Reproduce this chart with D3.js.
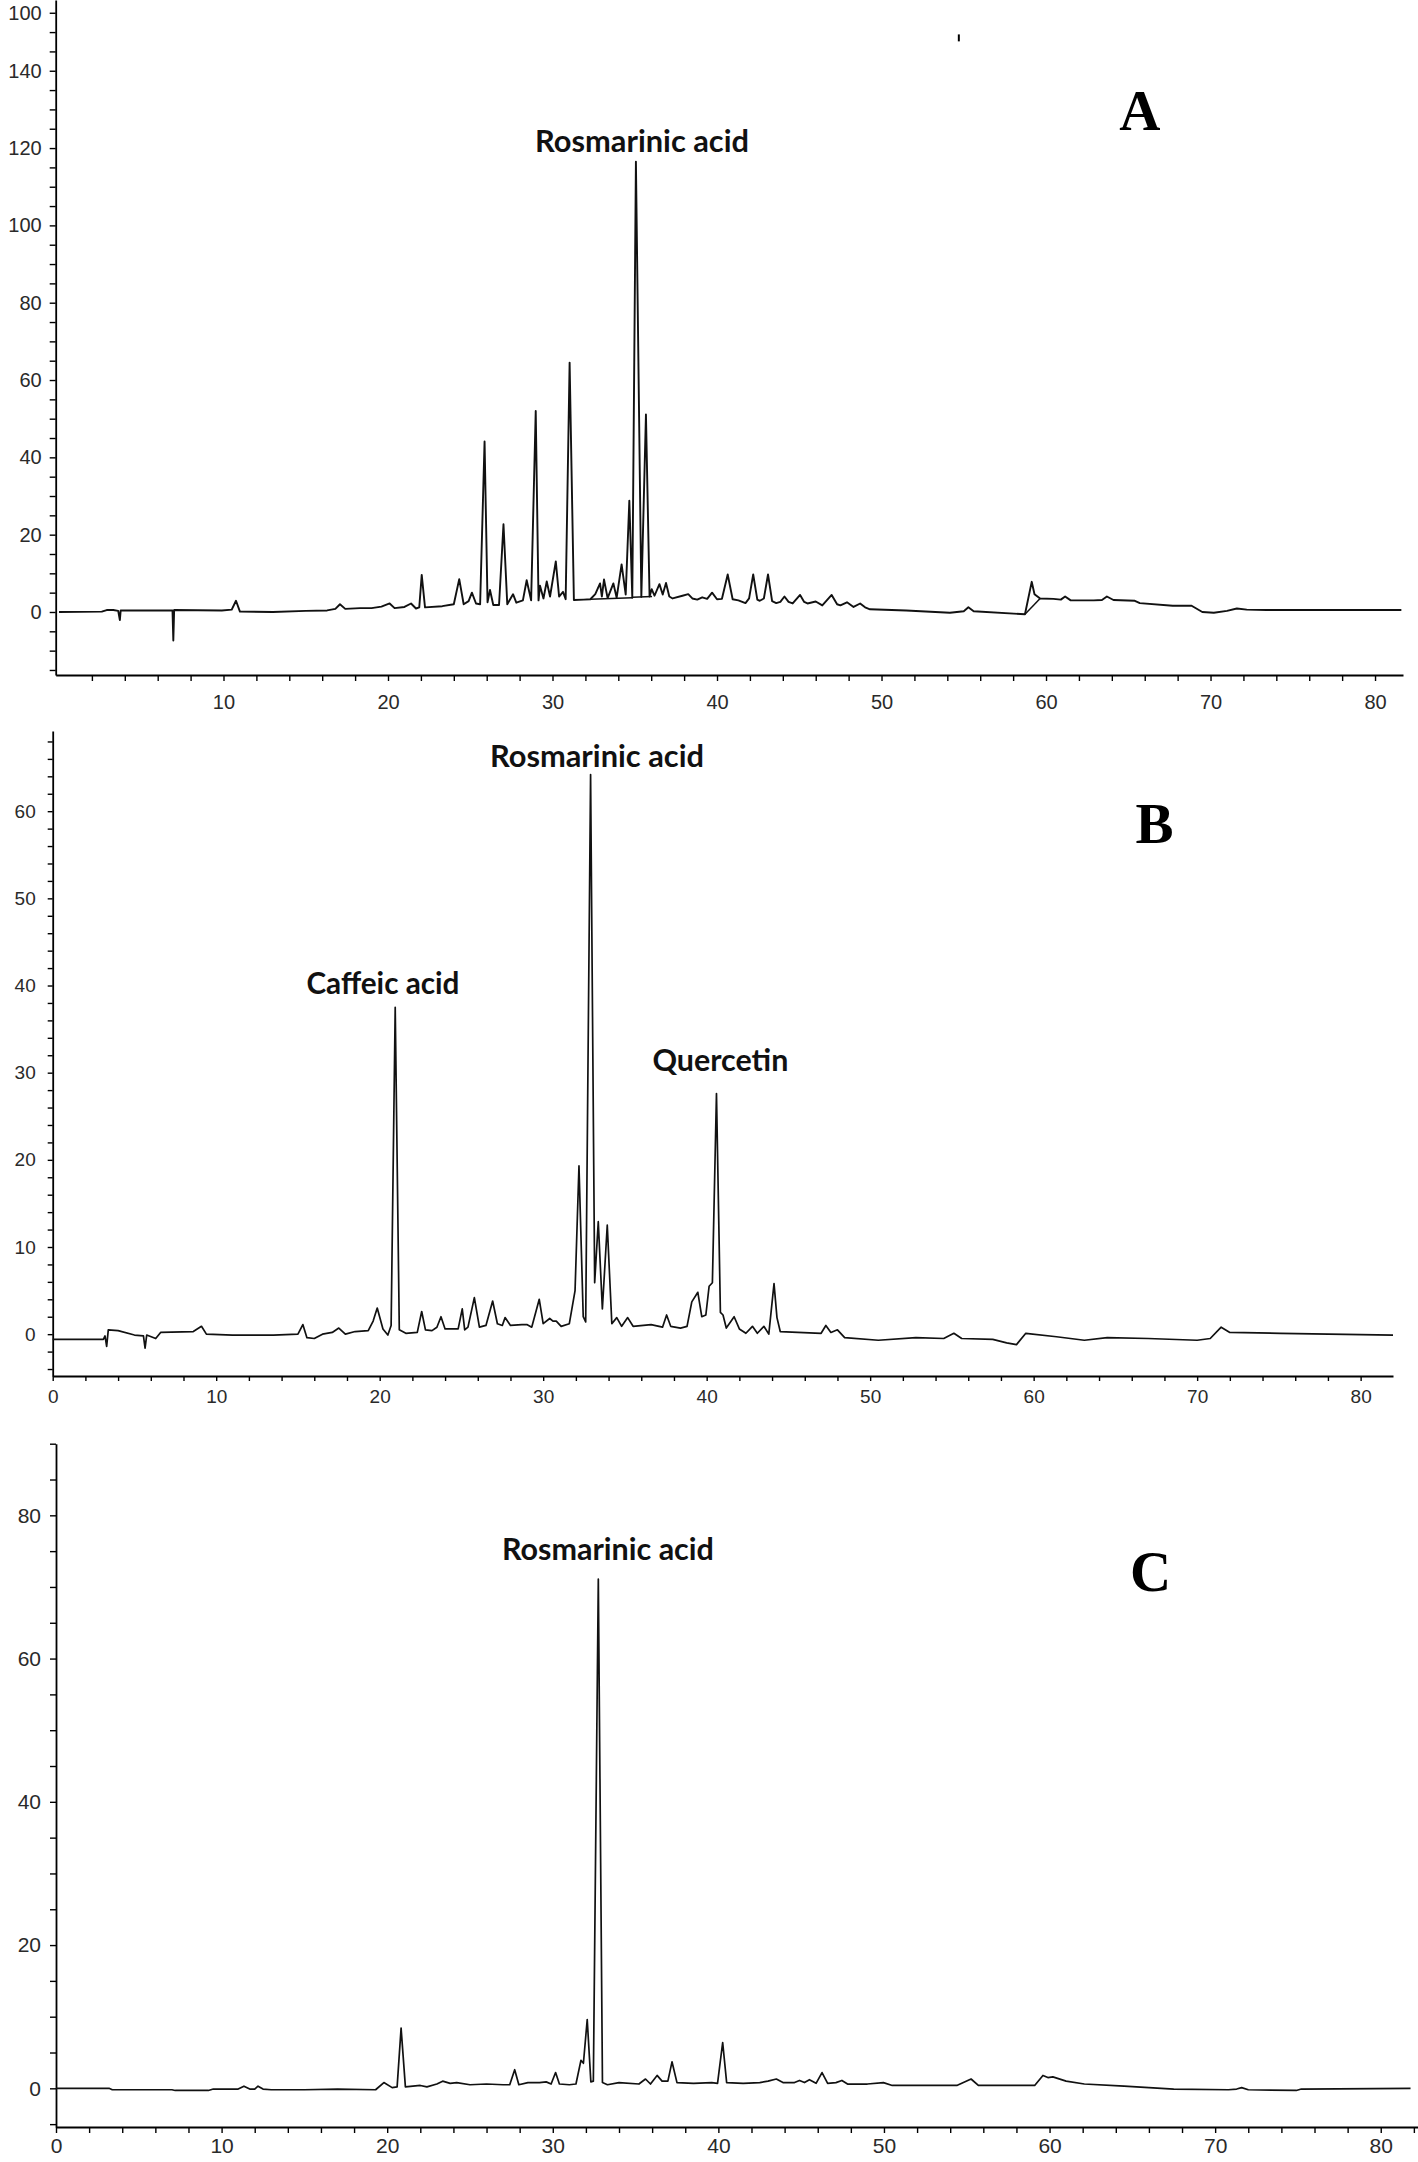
<!DOCTYPE html>
<html><head><meta charset="utf-8">
<script src="https://cdn.jsdelivr.net/npm/d3@7"></script>
<style>body{margin:0;background:#fff}svg{display:block}</style>
</head><body>
<svg id="chart" width="1418" height="2162"></svg>
<script>
// ---------- DATA (retention time in min, absorbance in mAU) ----------
const traceA = [[0,0],[2.6,0.1],[2.9,0.5],[3.3,0.5],[3.6,0.3],[3.7,-2.1],[3.75,0.4],[6.9,0.4],[6.95,-7.4],[7.0,0.5],[9.9,0.4],[10.5,0.6],[10.76,2.9],[11.0,0.1],[13.0,0.0],[15.0,0.3],[16.3,0.4],[16.8,0.8],[17.08,2.0],[17.4,0.8],[18.3,1.0],[19.0,1.0],[19.6,1.4],[20.1,2.2],[20.4,1.0],[21.0,1.3],[21.4,2.2],[21.7,0.9],[21.9,1.2],[22.05,9.6],[22.25,1.2],[23.3,1.5],[24.0,2.0],[24.33,8.5],[24.6,2.0],[24.9,2.8],[25.1,5.0],[25.35,2.2],[25.6,2.0],[25.87,44.1],[26.05,2.5],[26.2,5.7],[26.4,1.8],[26.75,1.8],[27.02,22.7],[27.25,2.0],[27.6,4.6],[27.8,2.4],[28.2,3.0],[28.43,8.2],[28.7,3.0],[28.98,52.0],[29.15,3.0],[29.24,6.8],[29.45,3.5],[29.65,7.9],[29.85,4.0],[30.2,13.1],[30.4,4.0],[30.64,5.2],[30.8,3.3],[31.04,64.5],[31.3,3.1],[31.9,3.2],[32.3,3.3],[32.6,4.6],[32.89,7.4],[33.0,4.0],[33.13,8.4],[33.35,3.6],[33.7,7.4],[33.9,3.7],[34.2,12.3],[34.45,4.5],[34.67,28.8],[34.85,3.7],[35.07,116.5],[35.4,3.9],[35.68,51.1],[35.9,4.0],[36.03,5.9],[36.2,4.2],[36.5,7.2],[36.7,4.5],[36.9,7.5],[37.1,4.0],[37.3,3.5],[37.9,4.2],[38.25,4.6],[38.5,3.5],[38.8,3.2],[39.1,3.8],[39.4,3.4],[39.7,5.0],[40.0,3.3],[40.3,3.4],[40.65,9.7],[40.95,3.3],[41.3,3.0],[41.73,2.3],[41.95,3.5],[42.2,9.7],[42.45,3.2],[42.6,2.9],[42.85,3.5],[43.1,9.7],[43.35,2.8],[43.6,2.3],[43.85,2.6],[44.1,4.0],[44.35,2.6],[44.6,2.2],[45.05,4.4],[45.3,2.6],[45.5,2.2],[46.0,2.7],[46.4,1.7],[46.97,4.4],[47.3,2.0],[47.5,1.7],[47.9,2.5],[48.3,1.3],[48.7,2.2],[49.0,1.2],[49.3,0.7],[51.5,0.4],[54.16,-0.2],[55.0,0.2],[55.28,1.2],[55.6,0.2],[58.72,-0.6],[59.13,7.8],[59.3,4.6],[59.64,3.5],[60.45,3.4],[60.9,3.2],[61.16,4.0],[61.5,3.0],[62.9,3.0],[63.4,3.1],[63.7,4.0],[64.1,3.1],[65.4,2.9],[65.7,2.3],[67.7,1.6],[68.85,1.6],[69.5,0.0],[70.2,-0.2],[71.0,0.3],[71.6,0.9],[72.2,0.6],[73.4,0.5],[81.6,0.5]];

const baselinesA = [
  [[32.3,3.3],[34.85,3.7]],
  [[34.85,3.8],[36.05,4.0]],
  [[58.72,-0.6],[59.64,3.5]]
];

const traceB = [[0,-0.6],[3.1,-0.6],[3.2,-0.2],[3.3,-1.4],[3.4,0.5],[4.0,0.4],[5.0,-0.1],[5.55,-0.2],[5.65,-1.6],[5.75,-0.1],[6.3,-0.5],[6.6,0.2],[8.6,0.3],[9.1,0.9],[9.4,0.0],[11.0,-0.1],[13.5,-0.1],[15.0,0.0],[15.3,1.1],[15.55,-0.4],[16.0,-0.5],[16.5,0.0],[17.1,0.2],[17.5,0.7],[17.9,0.0],[18.5,0.3],[19.3,0.4],[19.6,1.5],[19.85,3.0],[20.2,0.6],[20.5,-0.1],[20.7,1.0],[20.95,37.5],[21.2,0.5],[21.6,0.1],[22.3,0.2],[22.57,2.6],[22.8,0.5],[23.2,0.4],[23.5,0.8],[23.75,2.0],[24.0,0.6],[24.8,0.6],[25.05,2.9],[25.2,0.5],[25.4,0.8],[25.79,4.2],[26.1,0.8],[26.5,1.0],[26.91,3.8],[27.2,1.2],[27.5,1.0],[27.67,1.9],[28.0,1.0],[28.7,1.1],[29.0,1.1],[29.3,0.8],[29.76,4.0],[30.0,1.2],[30.4,1.8],[30.6,1.5],[30.8,1.5],[31.1,0.9],[31.6,1.2],[31.95,5.0],[32.19,19.3],[32.45,2.0],[32.6,1.4],[32.9,64.2],[33.15,5.9],[33.37,12.9],[33.62,2.9],[33.92,12.5],[34.2,1.2],[34.5,1.9],[34.8,0.9],[35.17,1.9],[35.5,0.9],[36.6,1.1],[37.3,0.8],[37.55,2.2],[37.8,0.9],[38.4,0.7],[38.8,0.9],[39.09,3.7],[39.46,4.8],[39.7,2.0],[39.95,2.2],[40.15,5.5],[40.35,5.9],[40.6,27.6],[40.84,2.5],[41.0,2.2],[41.2,0.7],[41.68,2.0],[42.0,0.6],[42.4,0.1],[42.8,0.9],[43.1,0.1],[43.5,0.9],[43.8,0.0],[44.12,5.8],[44.3,1.9],[44.5,0.3],[47.0,0.1],[47.29,1.0],[47.6,0.2],[48.0,0.5],[48.44,-0.4],[50.5,-0.7],[52.8,-0.4],[54.5,-0.5],[55.12,0.1],[55.6,-0.5],[57.5,-0.6],[58.35,-1.0],[58.95,-1.2],[59.52,0.1],[61.4,-0.3],[63.1,-0.7],[64.5,-0.4],[67.0,-0.5],[70.0,-0.7],[70.8,-0.5],[71.47,0.8],[72.0,0.2],[75.1,0.1],[81.98,-0.1]];

const traceC = [[0,0],[3.2,0],[3.4,-0.2],[7.0,-0.2],[7.2,-0.3],[9.2,-0.3],[9.5,-0.1],[11.0,-0.1],[11.35,0.3],[11.7,-0.1],[12.0,-0.1],[12.2,0.3],[12.5,-0.1],[13.0,-0.2],[15.0,-0.2],[17.0,-0.1],[19.3,-0.2],[19.8,0.8],[20.3,0.1],[20.6,0.2],[20.84,8.4],[21.1,0.2],[22.0,0.4],[22.4,0.2],[23.0,0.6],[23.35,1.0],[23.8,0.7],[24.2,0.8],[25.0,0.5],[26.0,0.6],[27.0,0.5],[27.4,0.5],[27.7,2.6],[27.95,0.5],[28.5,0.8],[29.2,0.8],[29.6,0.9],[29.9,0.6],[30.17,2.2],[30.4,0.6],[31.0,0.5],[31.4,0.6],[31.7,3.9],[31.85,3.5],[32.08,9.6],[32.3,0.9],[32.45,1.0],[32.75,71.1],[33.0,0.8],[33.3,0.5],[34.0,0.8],[35.2,0.6],[35.6,1.3],[35.9,0.6],[36.3,1.8],[36.6,1.0],[36.95,1.0],[37.2,3.7],[37.5,0.8],[38.5,0.7],[39.6,0.8],[39.95,0.7],[40.26,6.4],[40.5,0.8],[41.5,0.7],[42.5,0.8],[43.0,1.0],[43.5,1.3],[43.9,0.8],[44.6,0.8],[44.9,1.1],[45.2,0.8],[45.5,1.2],[45.9,0.7],[46.26,2.2],[46.6,0.7],[47.1,0.8],[47.46,1.1],[47.8,0.6],[49.0,0.6],[49.97,0.8],[50.5,0.4],[54.4,0.4],[55.26,1.3],[55.7,0.4],[59.1,0.4],[59.6,1.8],[59.9,1.5],[60.2,1.6],[61.0,1.0],[62.1,0.6],[64.5,0.3],[67.5,-0.1],[70.8,-0.2],[71.3,-0.1],[71.6,0.1],[72.0,-0.2],[74.9,-0.3],[75.2,-0.1],[81.8,0]];

// tick values / labels
const xTicksA = d3.range(2, 82, 2);
const xLabelValsA = [10,20,30,40,50,60,70,80];
const xLabelTextA = ["10","20","30","40","50","60","70","80"];
const yTicksA = d3.range(-15, 160, 5);
const yLabelValsA = [0,20,40,60,80,100,120,140,155];
const yLabelTextA = ["0","20","40","60","80","100","120","140","100"];

const xTicksB = d3.range(0, 82, 2);
const xLabelValsB = [0,10,20,30,40,50,60,70,80];
const xLabelTextB = ["0","10","20","30","40","50","60","70","80"];
const yTicksB = d3.range(-4, 70, 2);
const yLabelValsB = [0,10,20,30,40,50,60];
const yLabelTextB = ["0","10","20","30","40","50","60"];

const xTicksC = d3.range(0, 84, 2);
const xLabelValsC = [0,10,20,30,40,50,60,70,80];
const xLabelTextC = ["0","10","20","30","40","50","60","70","80"];
const yTicksC = d3.range(-5, 91, 5);
const yLabelValsC = [0,20,40,60,80];
const yLabelTextC = ["0","20","40","60","80"];

// annotations: [text, time, absorbance of baseline]
const compoundsA = [["Rosmarinic acid", 35.44, 119.0]];
const compoundsB = [["Caffeic acid", 20.2, 39.0],["Rosmarinic acid", 33.29, 65.06],["Quercetin", 40.84, 30.2]];
const compoundsC = [["Rosmarinic acid", 33.33, 73.75]];
const panelLetters = ["A","B","C"];
const letterPos = [[65.7,124.7],[67.4,56.3],[66.1,69.4]];

// ---------- LAYOUT ----------
const svg = d3.select("#chart");
const panels = [
  {trace: traceA, baselines: baselinesA, compounds: compoundsA,
   x: d3.scaleLinear().domain([-0.2, 81.7]).range([55.7, 1403]),
   y: d3.scaleLinear().domain([-16.3, 158.3]).range([675, 0]),
   xTicks: xTicksA, xLab: [xLabelValsA, xLabelTextA], yTicks: yTicksA, yLab: [yLabelValsA, yLabelTextA],
   fs: 20, xPad: 14, yPad: 8, tick: 6, sw: 1.9, textW: {"Rosmarinic acid":214}},
  {trace: traceB, baselines: [], compounds: compoundsB,
   x: d3.scaleLinear().domain([0, 81.98]).range([52.7, 1393]),
   y: d3.scaleLinear().domain([-4.8, 69.2]).range([1376, 731]),
   xTicks: xTicksB, xLab: [xLabelValsB, xLabelTextB], yTicks: yTicksB, yLab: [yLabelValsB, yLabelTextB],
   fs: 19, xPad: 9, yPad: 12, tick: 5, sw: 1.7, textW: {"Rosmarinic acid":214, "Caffeic acid":153, "Quercetin":136}},
  {trace: traceC, baselines: [], compounds: compoundsC,
   x: d3.scaleLinear().domain([0, 82.25]).range([56, 1418]),
   y: d3.scaleLinear().domain([-5.4, 90.0]).range([2127, 1443.7]),
   xTicks: xTicksC, xLab: [xLabelValsC, xLabelTextC], yTicks: yTicksC, yLab: [yLabelValsC, yLabelTextC],
   fs: 21, xPad: 5, yPad: 9, tick: 6, sw: 1.7, textW: {"Rosmarinic acid":212}}
];

panels.forEach((p, i) => {
  const g = svg.append("g");
  const x0 = p.x.range()[0], y0 = p.y.range()[0];
  const xFmt = d => { const k = p.xLab[0].indexOf(d); return k >= 0 ? p.xLab[1][k] : ""; };
  const yFmt = d => { const k = p.yLab[0].indexOf(d); return k >= 0 ? p.yLab[1][k] : ""; };

  const xAxis = d3.axisBottom(p.x).tickValues(p.xTicks).tickFormat(xFmt).tickSize(p.tick).tickSizeOuter(0).tickPadding(p.xPad);
  const yAxis = d3.axisLeft(p.y).tickValues(p.yTicks).tickFormat(yFmt).tickSize(p.tick).tickSizeOuter(0).tickPadding(p.yPad);

  const gx = g.append("g").attr("transform", `translate(0,${y0})`).call(xAxis);
  const gy = g.append("g").attr("transform", `translate(${x0},0)`).call(yAxis);
  [gx, gy].forEach(a => {
    a.selectAll("path.domain").attr("stroke", "#000").attr("stroke-width", 1.8);
    a.selectAll(".tick line").attr("stroke", "#000").attr("stroke-width", 1.4);
    a.selectAll(".tick text").attr("font-family", "'Liberation Sans', Arial, sans-serif")
      .attr("font-size", p.fs).attr("fill", "#2a2a2a");
  });

  const line = d3.line().x(d => p.x(d[0])).y(d => p.y(d[1]));
  p.baselines.forEach(seg => {
    g.append("path").attr("d", line(seg)).attr("fill", "none").attr("stroke", "#111").attr("stroke-width", 1.5);
  });
  g.append("path").datum(p.trace).attr("d", line)
    .attr("fill", "none").attr("stroke", "#111").attr("stroke-width", p.sw)
    .attr("stroke-linejoin", "round");

  p.compounds.forEach(c => {
    const t = g.append("text").text(c[0])
      .attr("x", p.x(c[1])).attr("y", p.y(c[2]))
      .attr("text-anchor", "middle")
      .attr("font-family", "Lato, 'Open Sans', sans-serif")
      .attr("font-weight", "bold").attr("font-size", 25).attr("fill", "#111");
    const w = t.node().getComputedTextLength();
    const target = p.textW[c[0]];
    if (w > 0 && target) t.attr("font-size", 25 * target / w);
  });

  g.append("text").text(panelLetters[i])
    .attr("x", p.x(letterPos[i][0])).attr("y", p.y(letterPos[i][1]))
    .attr("text-anchor", "middle")
    .attr("font-family", "'Liberation Serif', 'Times New Roman', serif")
    .attr("font-weight", "bold").attr("font-size", 57).attr("fill", "#000");
});

// small stray mark near top of panel A
const pA = panels[0];
svg.append("line")
  .attr("x1", pA.x(54.7)).attr("x2", pA.x(54.7))
  .attr("y1", pA.y(149.4)).attr("y2", pA.y(147.6))
  .attr("stroke", "#000").attr("stroke-width", 2);
</script>
</body></html>
